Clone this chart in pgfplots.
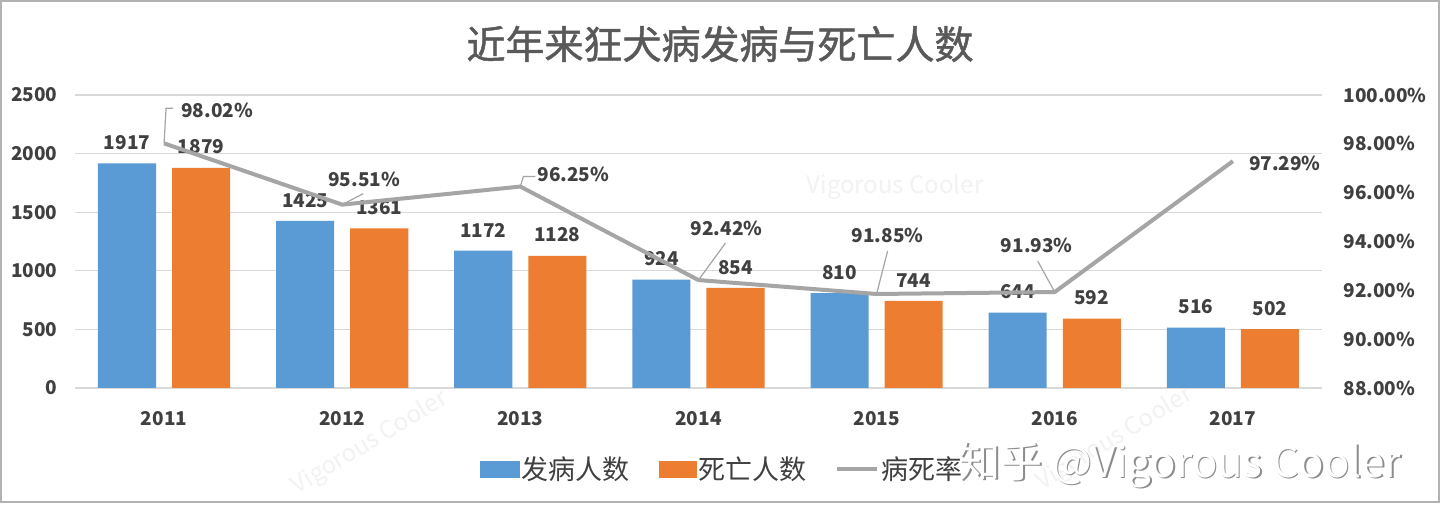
\documentclass[border=0pt]{standalone}
\usepackage{pgfplots}
\pgfplotsset{compat=1.18}
\usepackage{fontspec}
\setmainfont{Noto Sans CJK SC}
\newfontfamily\titlefont{Noto Sans CJK SC}[FakeBold=1.2]
\definecolor{barblue}{HTML}{5B9BD5}
\definecolor{barorange}{HTML}{ED7D31}
\definecolor{linegray}{HTML}{A5A5A5}
\definecolor{gridgray}{HTML}{D9D9D9}
\definecolor{txt}{HTML}{404040}
\definecolor{titlecol}{HTML}{595959}
\newcommand{\numf}{\fontsize{19}{22}\selectfont\bfseries}
\begin{document}
\begin{tikzpicture}[x=1pt,y=1pt,
  lbl/.style={font=\numf, text=txt},
  leader/.style={draw=linegray, line width=1.2pt}]
\useasboundingbox (0,0) rectangle (1440,529);
\fill[white] (0,0) rectangle (1440,529);
% faint watermarks
\node[text=black!5, font=\fontsize{24}{28}\selectfont] at (895,342) {Vigorous Cooler};
\node[text=black!5, rotate=31, font=\fontsize{24}{28}\selectfont] at (370,86) {Vigorous Cooler};
\node[text=black!5, rotate=31, font=\fontsize{24}{28}\selectfont] at (1115,90) {Vigorous Cooler};
% title
\node[text=titlecol, font=\titlefont\fontsize{39}{44}\selectfont] at (720,485) {近年来狂犬病发病与死亡人数};
% bars
\begin{axis}[
  at={(75pt,141pt)}, anchor=south west, scale only axis,
  width=1247pt, height=293pt,
  xmin=-0.5, xmax=6.5, ymin=0, ymax=2500,
  xtick={0,...,6}, xticklabels={2011,2012,2013,2014,2015,2016,2017},
  ytick={0,500,...,2500},
  ymajorgrids, grid style={gridgray, line width=1.3pt},
  axis line style={draw=none}, major tick style={draw=none},
  tick label style={font=\numf, text=txt},
  yticklabel style={xshift=-14pt},
  xticklabel style={yshift=-20pt},
  /pgf/number format/assume math mode=true,
  /pgf/number format/1000 sep={},
  nodes near coords,
  nodes near coords style={font=\numf, text=txt, anchor=south, yshift=10pt},
  clip=false,
]
\addplot[ybar, bar width=0.326, bar shift=-0.208, fill=barblue, draw=none,
  every node near coord/.append style={xshift=-37pt}]
  coordinates {(0,1917)(1,1425)(2,1172)(3,924)(4,810)(5,644)(6,516)};
\addplot[ybar, bar width=0.326, bar shift=0.208, fill=barorange, draw=none,
  every node near coord/.append style={xshift=37pt}]
  coordinates {(0,1879)(1,1361)(2,1128)(3,854)(4,744)(5,592)(6,502)};
\end{axis}
% line
\begin{axis}[
  at={(75pt,141pt)}, anchor=south west, scale only axis,
  width=1247pt, height=293pt,
  xmin=-0.5, xmax=6.5, ymin=88, ymax=100,
  hide x axis, axis y line*=right,
  axis line style={draw=none}, major tick style={draw=none},
  ytick={88,90,...,100},
  yticklabel={\pgfmathprintnumber[fixed,fixed zerofill,precision=2]{\tick}\%},
  yticklabel style={font=\numf, text=txt, xshift=18pt},
  /pgf/number format/assume math mode=true,
  clip=false,
  legend columns=3,
  legend style={at={(0.519,-0.276)}, anchor=center, draw=none, fill=none,
    font=\fontsize{27}{30}\selectfont, text=txt, inner sep=0pt,
    nodes={inner sep=2pt},
    /tikz/every even column/.append style={column sep=27pt}},
]
\addlegendimage{legend image code/.code={\fill[barblue] (0pt,-8pt) rectangle (39pt,8pt);}}
\addlegendentry{发病人数}
\addlegendimage{legend image code/.code={\fill[barorange] (0pt,-8pt) rectangle (37pt,8pt);}}
\addlegendentry{死亡人数}
\addplot[linegray, line width=4pt, line join=round, mark=none,
  legend image code/.code={\draw[linegray, line width=4pt] (0pt,0pt) -- (40pt,0pt);}]
  coordinates {(0,98.02)(1,95.51)(2,96.25)(3,92.42)(4,91.85)(5,91.93)(6,97.29)};
\addlegendentry{病死率}
% leader lines
\draw[leader] (axis cs:0,98.02) -- ++(2pt,35pt) -- ++(7pt,0pt);
\draw[leader] (axis cs:1,95.51) -- ++(21pt,11pt);
\draw[leader] (axis cs:2,96.25) -- ++(3pt,10pt) -- ++(12pt,0pt);
\draw[leader] (axis cs:3,92.42) -- ++(27pt,37pt);
\draw[leader] (axis cs:4,91.85) -- ++(11pt,43pt);
\draw[leader] (axis cs:5,91.93) -- ++(-17pt,31pt);
% labels
\node[lbl, xshift=53pt, yshift=33pt] at (axis cs:0,98.02) {98.02\%};
\node[lbl, xshift=22pt, yshift=25pt] at (axis cs:1,95.51) {95.51\%};
\node[lbl, xshift=53pt, yshift=12.5pt] at (axis cs:2,96.25) {96.25\%};
\node[lbl, xshift=28pt, yshift=52pt] at (axis cs:3,92.42) {92.42\%};
\node[lbl, xshift=11pt, yshift=59pt] at (axis cs:4,91.85) {91.85\%};
\node[lbl, xshift=-18pt, yshift=47pt] at (axis cs:5,91.93) {91.93\%};
\node[lbl, xshift=52pt, yshift=-2pt] at (axis cs:6,97.29) {97.29\%};
\end{axis}
% big watermark
\node[text=black!45, font=\fontsize{42}{48}\selectfont] at (1181.5,62.5) {知乎 @Vigorous Cooler};
\node[text=white, font=\fontsize{42}{48}\selectfont] at (1180,64) {知乎 @Vigorous Cooler};
% border
\draw[black!30, line width=1.5pt] (1,27) rectangle (1439,528);
\end{tikzpicture}
\end{document}
